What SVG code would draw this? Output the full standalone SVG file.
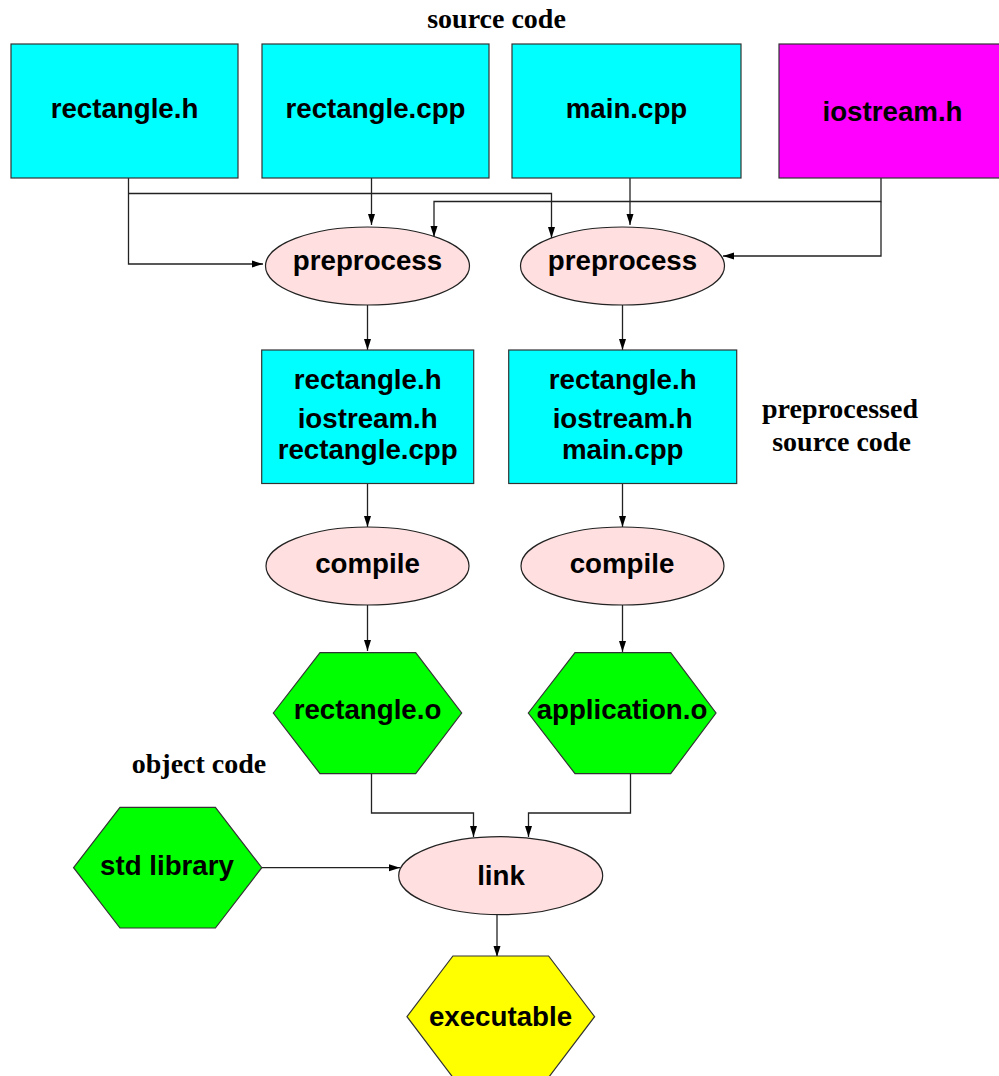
<svg xmlns="http://www.w3.org/2000/svg" width="999" height="1076" viewBox="0 0 999 1076">
<style>
.box{stroke:#333;stroke-width:1.2}
.cyan{fill:#00ffff}
.mag{fill:#ff00ff}
.proc{fill:#ffdfdf;stroke:#222;stroke-width:1.2}
.green{fill:#00ff00;stroke:#333;stroke-width:1.2}
.yellow{fill:#ffff00;stroke:#333;stroke-width:1.2}
.t{font-family:"Liberation Sans",Arial,sans-serif;font-weight:bold;font-size:27.7px;text-anchor:middle;fill:#000}
.lbl{font-family:"Liberation Serif","Times New Roman",serif;font-weight:bold;font-size:28px;text-anchor:middle;fill:#000}
.c{fill:none;stroke:#222;stroke-width:1.3;marker-end:url(#ah)}
</style>
<defs>
<marker id="ah" markerUnits="userSpaceOnUse" markerWidth="11" markerHeight="8" refX="11" refY="4" orient="auto">
<path d="M0,0.5 L11,4 L0,7.5 z" fill="#000"/>
</marker>
</defs>
<rect width="999" height="1076" fill="#fff"/>
<g id="labels">
<text class="lbl" x="496.5" y="28">source code</text>
<text class="lbl" x="840" y="418">preprocessed</text>
<text class="lbl" x="841.5" y="451">source code</text>
<text class="lbl" x="199" y="773">object code</text>
</g>
<g id="connectors">
<path class="c" d="M128.5,178 V264 H263"/>
<path class="c" d="M128.5,193.5 H551.5 V238"/>
<path class="c" d="M371.5,178 V225"/>
<path class="c" d="M630,178 V225"/>
<path class="c" d="M881,178 V201.5 H434 V237"/>
<path class="c" d="M881,201.5 V256 H723"/>
<path class="c" d="M367.5,305 V350"/>
<path class="c" d="M622.5,305 V350"/>
<path class="c" d="M367.5,483.5 V527"/>
<path class="c" d="M622.5,483.5 V527"/>
<path class="c" d="M367.5,605 V651"/>
<path class="c" d="M622.5,605 V652"/>
<path class="c" d="M371.5,774 V813 H473.5 V837"/>
<path class="c" d="M630.5,774 V813 H528.5 V837"/>
<path class="c" d="M262,867.7 H400"/>
<path class="c" d="M497,914.7 V957"/>
</g>
<g id="rectangle_h">
<rect class="box cyan" x="11" y="44" width="227" height="134"/>
<text class="t" x="124.5" y="118">rectangle.h</text>
</g>
<g id="rectangle_cpp">
<rect class="box cyan" x="262" y="44" width="227" height="134"/>
<text class="t" x="375.5" y="118">rectangle.cpp</text>
</g>
<g id="main_cpp">
<rect class="box cyan" x="512" y="44" width="229" height="134"/>
<text class="t" x="626.5" y="118">main.cpp</text>
</g>
<g id="iostream_h">
<rect class="box mag" x="779" y="44" width="230" height="134"/>
<text class="t" x="892.5" y="121">iostream.h</text>
</g>
<g id="preprocess1">
<ellipse class="proc" cx="367.5" cy="266" rx="102" ry="39"/>
<text class="t" x="367.5" y="270">preprocess</text>
</g>
<g id="preprocess2">
<ellipse class="proc" cx="622.5" cy="266" rx="102" ry="39"/>
<text class="t" x="622.5" y="270">preprocess</text>
</g>
<g id="pre_box1">
<rect class="box cyan" x="261.7" y="350" width="212" height="133.5"/>
<text class="t" x="367.7" y="389">rectangle.h</text>
<text class="t" x="367.7" y="427.5">iostream.h</text>
<text class="t" x="367.7" y="459">rectangle.cpp</text>
</g>
<g id="pre_box2">
<rect class="box cyan" x="508.7" y="350" width="228" height="133.5"/>
<text class="t" x="622.7" y="389">rectangle.h</text>
<text class="t" x="622.7" y="427.5">iostream.h</text>
<text class="t" x="622.7" y="459">main.cpp</text>
</g>
<g id="compile1">
<ellipse class="proc" cx="367.5" cy="566" rx="101.5" ry="39"/>
<text class="t" x="367.5" y="573">compile</text>
</g>
<g id="compile2">
<ellipse class="proc" cx="622.5" cy="566" rx="101.5" ry="39"/>
<text class="t" x="622" y="573">compile</text>
</g>
<g id="rectangle_o">
<polygon class="green" points="273.3,713 320,652.7 415.7,652.7 461.7,713 415.7,773.7 320,773.7"/>
<text class="t" x="367.5" y="719">rectangle.o</text>
</g>
<g id="application_o">
<polygon class="green" points="528.3,713 575,652.7 670.7,652.7 716,713 670.7,773.7 575,773.7"/>
<text class="t" x="622" y="719">application.o</text>
</g>
<g id="std_library">
<polygon class="green" points="73.6,867.7 120,807.3 215.4,807.3 261.8,867.7 215.4,928 120,928"/>
<text class="t" x="167" y="875">std library</text>
</g>
<g id="link">
<ellipse class="proc" cx="500.7" cy="875.7" rx="102" ry="39"/>
<text class="t" x="501" y="885">link</text>
</g>
<g id="executable">
<polygon class="yellow" points="407,1016.7 452.9,956 548.6,956 594.6,1016.7 548.6,1077.4 452.9,1077.4"/>
<text class="t" x="500.5" y="1026">executable</text>
</g>
</svg>
